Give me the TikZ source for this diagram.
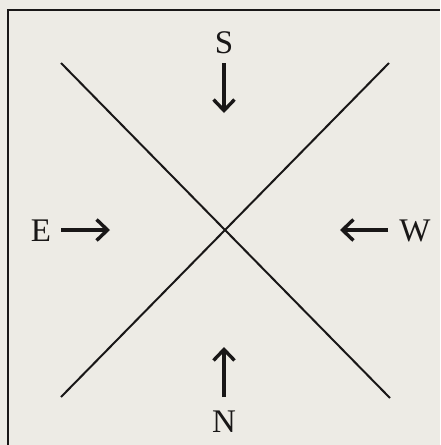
\documentclass[tikz,border=0pt]{standalone}
\usepackage{fontspec}
\setmainfont{Liberation Serif}
\usetikzlibrary{arrows.meta}
\definecolor{paper}{RGB}{237,235,229}
\definecolor{ink}{RGB}{25,23,23}
\begin{document}
\begin{tikzpicture}[x=1pt,y=-1pt,
  lbl/.style={font=\fontsize{33}{38}\selectfont, text=ink, inner sep=0pt, anchor=center},
  xline/.style={draw=ink, line width=2pt},
  frameline/.style={draw=ink, line width=2.6pt},
  arr/.style={draw=ink, line width=3.6pt, -{Straight Barb[length=11pt,width=21pt,line width=3.4pt]}}]
\useasboundingbox (0,0) rectangle (440,445);
\fill[paper] (0,0) rectangle (440,445);
\clip (0,0) rectangle (440,445);
\coordinate (fb) at (8,445);
\coordinate (fc) at (8,10);
\coordinate (fr) at (440,10);
\draw[frameline] (fb) -- (fc) -- (fr);
% X lines
\coordinate (a1) at (61,63);
\coordinate (a2) at (390,398);
\coordinate (b1) at (389,63);
\coordinate (b2) at (61,397);
\draw[xline] (a1) -- (a2);
\draw[xline] (b1) -- (b2);
% labels
\node[lbl] (S) at (224,43) {S};
\node[lbl] (E) at (41,231) {E};
\node[lbl] (W) at (415,231) {W};
\node[lbl] (N) at (224,422) {N};
% arrow tails and tips
\coordinate (sTail) at (224,63);
\coordinate (sTip) at (224,113);
\coordinate (eTail) at (61,230);
\coordinate (eTip) at (110,230);
\coordinate (wTail) at (388,230);
\coordinate (wTip) at (340,230);
\coordinate (nTail) at (224,397);
\coordinate (nTip) at (224,347);
\draw[arr] (sTail) -- (sTip);
\draw[arr] (eTail) -- (eTip);
\draw[arr] (wTail) -- (wTip);
\draw[arr] (nTail) -- (nTip);
\end{tikzpicture}
\end{document}
